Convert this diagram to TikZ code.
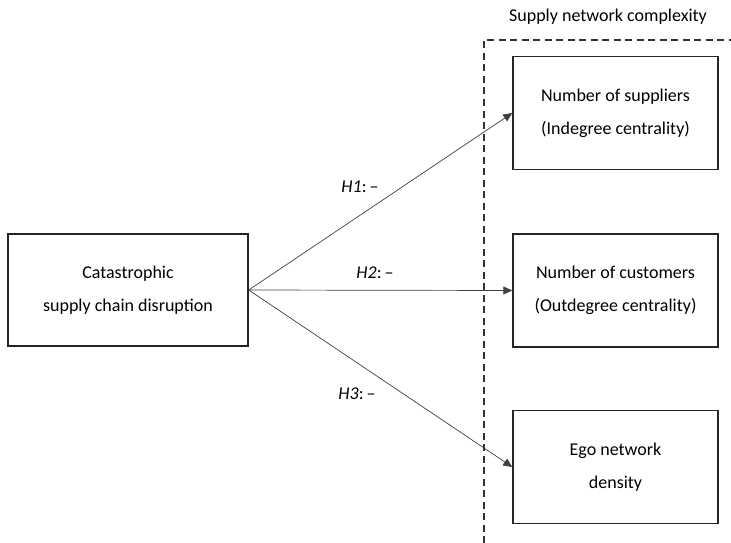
\documentclass[tikz,border=0pt]{standalone}
\usepackage{fontspec}
\setmainfont{Carlito}
\usetikzlibrary{arrows.meta}
\tikzset{
  box/.style={draw=black!85, line width=1.4pt, align=center, font=\fontsize{18}{33}\selectfont},
  link/.style={draw=black!75, line width=0.7pt, -{Triangle[length=9pt,width=8pt]}},
  hyp/.style={font=\fontsize{18}{20}\selectfont}
}
\begin{document}
\begin{tikzpicture}[x=1pt,y=-1pt]
\useasboundingbox (0,0) rectangle (731,543);
\coordinate (T) at (484,543);
\coordinate (C) at (484,40);
\coordinate (R) at (731,40);
\draw[black!80, line width=1.3pt, dash pattern=on 7pt off 4.5pt] (T)--(C)--(R);
\node[font=\fontsize{18}{20}\selectfont] (title) at (608,17) {Supply network complexity};
\node[box, minimum width=240, minimum height=112] (cause) at (128,290) {Catastrophic\\supply chain disruption};
\node[box, minimum width=205, minimum height=113] (sup) at (615.5,113) {Number of suppliers\\(Indegree centrality)};
\node[box, minimum width=205, minimum height=113] (cus) at (615.5,290.5) {Number of customers\\(Outdegree centrality)};
\node[box, minimum width=205, minimum height=113] (ego) at (615.5,467) {Ego network\\density};
\draw[link] (cause.east)--(sup.west);
\draw[link] (cause.east)--(cus.west);
\draw[link] (cause.east)--(ego.west);
\node[hyp] (h1) at (360,187) {\textit{H1}:\,--};
\node[hyp] (h2) at (375,273) {\textit{H2}:\,--};
\node[hyp] (h3) at (357,394) {\textit{H3}:\,--};
\end{tikzpicture}
\end{document}
